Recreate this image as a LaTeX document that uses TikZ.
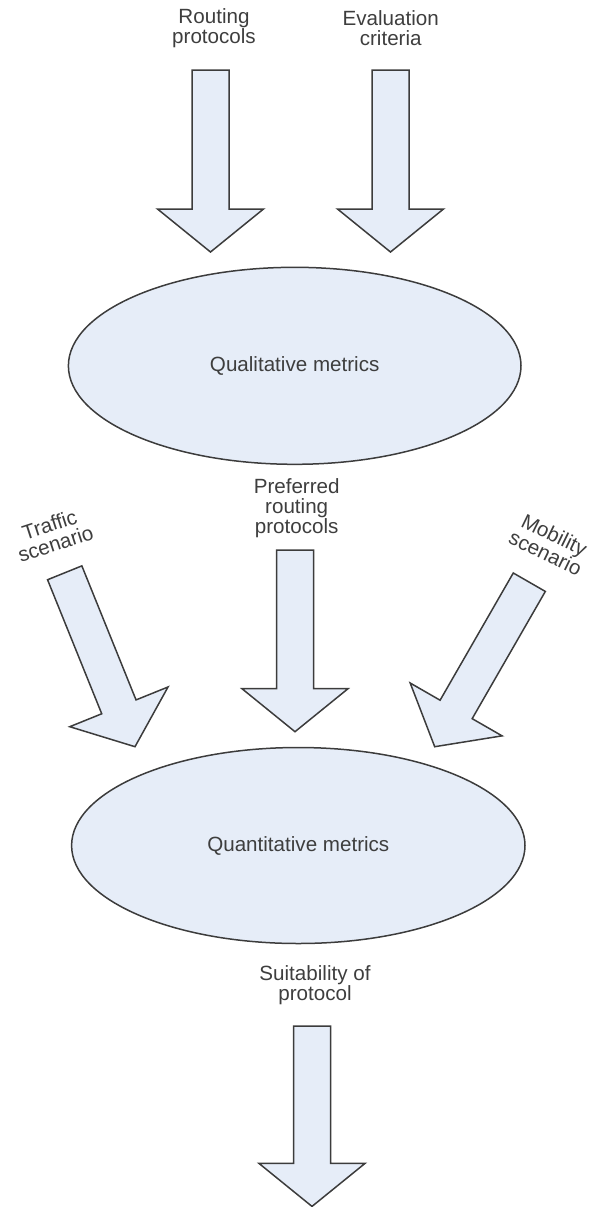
\documentclass[tikz,border=0pt]{standalone}
\usepackage{fontspec}
\setmainfont{Liberation Sans}
\usetikzlibrary{shapes,calc,positioning}
\usepackage{xcolor}

\definecolor{metricfill}{RGB}{230,237,248}
\definecolor{edgegrey}{RGB}{60,60,60}
\definecolor{labelgrey}{RGB}{62,62,62}

% block arrow from tail coordinate #1 to tip coordinate #2
\newcommand{\bigarrow}[2]{%
  \coordinate (#1-h) at ($(#2)!21.5pt!(#1)$);
  \draw[blockarrow] ($(#1)!9.25pt!90:(#2)$) -- ($(#1-h)!9.25pt!90:(#2)$)
    -- ($(#1-h)!26.5pt!90:(#2)$) -- (#2) -- ($(#1-h)!26.5pt!-90:(#2)$)
    -- ($(#1-h)!9.25pt!-90:(#2)$) -- ($(#1)!9.25pt!-90:(#2)$) -- cycle;
}

\begin{document}
\begin{tikzpicture}[x=0.5pt,y=-0.5pt,
    lbl/.style={align=center, inner sep=0pt, text=labelgrey, font=\fontsize{10.3}{10}\selectfont},
    metric/.style={ellipse, draw=edgegrey, fill=metricfill, line width=0.75pt, inner sep=0pt, text=labelgrey, font=\fontsize{10.3}{10}\selectfont},
    blockarrow/.style={draw=edgegrey, fill=metricfill, line width=0.75pt, line join=miter}]
            \useasboundingbox (0,0) rectangle (593,1207);

            % inputs
            \node[lbl] (routing) at (214,28.3) {Routing\\protocols};
            \node[lbl] (evaluation) at (390.7,28.3) {Evaluation\\criteria};
            \coordinate (routingT) at (210.5,70);
            \coordinate (routingP) at (210.5,252);
            \coordinate (evaluationT) at (390.5,70);
            \coordinate (evaluationP) at (390.5,252);
            \bigarrow{routingT}{routingP}
            \bigarrow{evaluationT}{evaluationP}

            \node[metric, minimum width=226.3pt, minimum height=98.5pt] (qual) at (294.7,365.8) {Qualitative metrics};

            % second stage
            \node[lbl] (preferred) at (296.7,507.8) {Preferred\\routing\\protocols};
            \node[lbl, rotate=18] (traffic) at (52.5,534) {Traffic\\scenario};
            \node[lbl, rotate=-26] (mobility) at (550,544) {Mobility\\scenario};
            \coordinate (preferredT) at (295,550);
            \coordinate (preferredP) at (295,731.7);
            \coordinate (trafficT) at (64.7,572.8);
            \coordinate (trafficP) at (135,746.7);
            \coordinate (mobilityT) at (529.3,582.2);
            \coordinate (mobilityP) at (434.7,746.7);
            \bigarrow{preferredT}{preferredP}
            \bigarrow{trafficT}{trafficP}
            \bigarrow{mobilityT}{mobilityP}

            \node[metric, minimum width=226.7pt, minimum height=98pt] (quant) at (298.3,845.5) {Quantitative metrics};

            % output
            \node[lbl] (suitability) at (315,985) {Suitability of\\protocol};
            \coordinate (suitabilityT) at (312,1026);
            \coordinate (suitabilityP) at (312,1206.4);
            \bigarrow{suitabilityT}{suitabilityP}
        \end{tikzpicture}
\end{document}
